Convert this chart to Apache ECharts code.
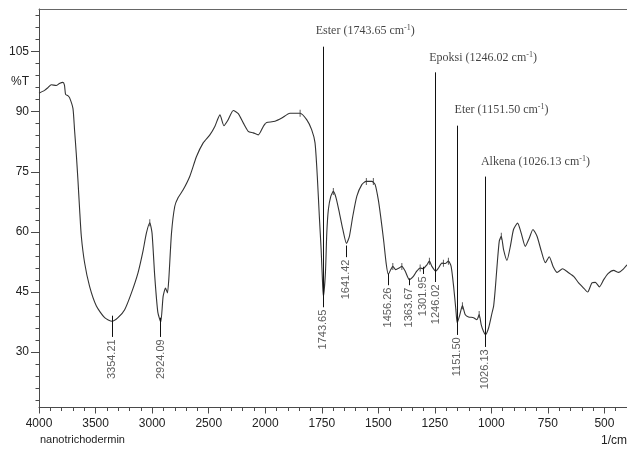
<!DOCTYPE html>
<html>
<head>
<meta charset="utf-8">
<script src="https://cdn.jsdelivr.net/npm/echarts@6/dist/echarts.min.js"></script>
<style>html,body{margin:0;padding:0;background:#fff}#c{width:627px;height:450px}</style>
</head>
<body>
<div id="c"></div>
<script>
// ---- data ----
const wavenumbers = [4000,3951,3920,3892,3848,3820,3789,3775,3765,3745,3730,3700,3686,3671,3656,3641,3626,3597,3553,3493,3420,3354,3302,3243,3183,3125,3081,3051,3021,3001,2977,2950,2924,2903,2882,2865,2853,2829,2800,2771,2726,2667,2608,2549,2490,2446,2401,2366,2328,2283,2239,2195,2151,2106,2062,2018,2000,
  1994,1957,1927,1891,1846,1817,1795,1780,1770,1761,1753,1746,1743,1734,1728,1721,1710,1699,1687,1672,1657,1641,1628,1613,1595,1573,1554,1529,1514,1500,1490,1477,1465,1456,1445,1436,1423,1408,1396,1381,1363,1345,1330,1315,1302,1285,1274,1263,1246,1234,1219,1204,1190,1178,1167,1157,1151,1141,1128,1116,1101,1079,1064,1054,1045,1035,1026,1012,997,990,983,975,965,956,946,931,916,902,884,868,850,832,816,798,779,761,744,727,709,685,658,636,614,592,574,555,540,522,503,484,459,437,419,400];
const transmittance = [94.6,95.3,96.0,96.7,96.5,97.0,97.3,96.6,94.3,94.0,93.5,90.8,85.5,79.7,73.0,65.6,58.9,52.3,46.4,41.5,38.6,37.7,38.6,40.6,44.8,49.8,55.2,59.7,62.3,59.7,48.9,40.0,37.5,43.9,46.0,44.8,48.1,59.7,66.4,68.5,70.5,73.9,78.8,82.2,84.2,86.3,89.2,86.5,88.0,90.3,89.5,87.2,85.1,84.7,84.2,86.3,87.0,
  87.3,87.6,88.4,89.6,89.6,88.0,85.5,82.2,73.9,63.9,55.6,46.4,43.9,49.8,59.7,65.6,68.9,70.1,68.5,64.7,60.6,57.1,58.9,63.9,68.9,71.8,72.6,72.6,71.8,68.0,64.0,58.1,52.0,49.4,50.6,51.4,50.6,51.0,51.4,50.2,48.1,48.9,50.2,51.0,50.8,51.8,52.7,51.4,50.2,51.0,52.2,52.1,52.7,51.4,46.4,40.6,37.3,39.0,41.6,39.4,38.8,38.6,38.1,39.4,36.9,35.2,34.4,36.1,39.8,41.5,45.6,51.4,57.7,58.9,55.6,52.9,56.4,60.6,62.2,59.7,56.4,58.5,60.6,58.9,55.2,52.3,53.8,51.4,49.9,50.8,49.8,48.9,47.3,46.0,45.0,47.3,47.4,46.3,48.1,49.6,50.4,49.9,50.6,51.8];

const peakWavenumbers = [3354.21, 2924.09, 1743.65, 1641.42, 1456.26, 1363.67, 1301.95, 1246.02, 1151.50, 1026.13];
const assignNames = ['Ester', 'Epoksi', 'Eter', 'Alkena'];
const assignWavenumbers = [1743.65, 1246.02, 1151.50, 1026.13];
const markerWavenumbers = [3021, 1846, 1699, 1553, 1522, 1436, 1396, 1315, 1274, 1212, 1190, 1128, 1054, 956];
const markerValues = [62.3, 89.6, 70.1, 72.6, 72.6, 51.4, 51.4, 51.0, 52.7, 52.2, 52.7, 41.6, 39.4, 58.9];

const xTicksLeft = [2000, 2500, 3000, 3500, 4000];
const xTicksRight = [500, 750, 1000, 1250, 1500, 1750];
const yTickLabels = [30, 45, 60, 75, 90, 105];

// ---- layout (label/line placement, in %T units) ----
const peakLabelTop = [33.2, 33.2, 40.6, 53.1, 46.1, 46.1, 48.9, 46.9, 33.7, 30.7];
const peakLineTop  = [39.1, 38.6, 106.2, 56.6, 49.6, 48.4, 51.3, 99.8, 86.5, 73.8];
const assignOffsets = [[-7, -15], [-6, -14], [-2, -15], [-4, -14]];

function range(a, b, s) { const r = []; for (let v = a; v <= b + 1e-9; v += s) r.push(Math.round(v * 1000) / 1000); return r; }
const yMinor = range(18, 114, 3).filter(v => v % 15 !== 0);
const xMinorLeft = range(2100, 3900, 100).filter(v => v % 500 !== 0);
const xMinorRight = range(450, 1950, 50).filter(v => v % 250 !== 0);

const pts = wavenumbers.map((w, i) => [w, transmittance[i]]);
const hi = pts.filter(p => p[0] >= 2000);
const lo = pts.filter(p => p[0] <= 2000);

const SANS = 'Liberation Sans', SERIF = 'Liberation Serif';
const AX = '#4a4a4a', INK = '#222';
const YMIN = 16.2, YMAX = 115.6;
const G = { top: 9, bottom: 42.5 };
const plain = v => String(v);

function peakItems(side) {
  return peakWavenumbers.map((w, i) => ({ w, i })).filter(o => side === 0 ? o.w >= 2000 : o.w < 2000)
    .map(o => ({ value: [o.w, peakLabelTop[o.i]], name: o.w.toFixed(2) }));
}
function peakLines(side) {
  return peakWavenumbers.map((w, i) => ({ w, i })).filter(o => side === 0 ? o.w >= 2000 : o.w < 2000)
    .map(o => [{ coord: [o.w, peakLineTop[o.i]] }, { coord: [o.w, peakLabelTop[o.i] + 0.6] }]);
}
function markerItems(side) {
  return markerWavenumbers.map((w, i) => [w, markerValues[i]]).filter(p => side === 0 ? p[0] >= 2000 : p[0] < 2000);
}

const xBase = (gi, min, max) => ({
  gridIndex: gi, type: 'value', min, max, inverse: true, position: 'bottom',
  splitLine: { show: false }
});

const option = {
  animation: false,
  backgroundColor: '#fff',
  grid: [
    { left: 39, width: 226.3, top: G.top, bottom: G.bottom, outerBoundsMode: 'none' },
    { left: 265.3, right: 0, top: G.top, bottom: G.bottom, outerBoundsMode: 'none' },
    { left: 39, width: 226.3, top: G.top, bottom: G.bottom, outerBoundsMode: 'none' },
    { left: 265.3, right: 0, top: G.top, bottom: G.bottom, outerBoundsMode: 'none' }
  ],
  xAxis: [
    Object.assign(xBase(0, 2000, 4000), {
      axisLine: { show: true, onZero: false, lineStyle: { color: AX, width: 1 } },
      axisTick: { show: true, customValues: xTicksLeft, length: 6, lineStyle: { color: AX } },
      axisLabel: { customValues: xTicksLeft, formatter: plain, margin: 10, color: INK, fontFamily: SANS, fontSize: 12, lineHeight: 12 }
    }),
    Object.assign(xBase(1, 400, 2000), {
      axisLine: { show: true, onZero: false, lineStyle: { color: AX, width: 1 } },
      axisTick: { show: true, customValues: xTicksRight, length: 6, lineStyle: { color: AX } },
      axisLabel: { customValues: xTicksRight, formatter: plain, margin: 10, color: INK, fontFamily: SANS, fontSize: 12, lineHeight: 12 }
    }),
    Object.assign(xBase(2, 2000, 4000), {
      axisLine: { show: false, onZero: false },
      axisTick: { show: true, customValues: xMinorLeft, length: 3.5, lineStyle: { color: AX } },
      axisLabel: { show: false }
    }),
    Object.assign(xBase(3, 400, 2000), {
      axisLine: { show: false, onZero: false },
      axisTick: { show: true, customValues: xMinorRight, length: 3.5, lineStyle: { color: AX } },
      axisLabel: { show: false }
    }),
    Object.assign(xBase(0, 2000, 4000), {
      position: 'top',
      axisLine: { show: true, onZero: false, lineStyle: { color: '#666', width: 1 } },
      axisTick: { show: false }, axisLabel: { show: false }
    }),
    Object.assign(xBase(1, 400, 2000), {
      position: 'top',
      axisLine: { show: true, onZero: false, lineStyle: { color: '#666', width: 1 } },
      axisTick: { show: false }, axisLabel: { show: false }
    })
  ],
  yAxis: [
    {
      gridIndex: 0, type: 'value', min: YMIN, max: YMAX, position: 'left',
      axisLine: { show: true, onZero: false, lineStyle: { color: AX, width: 1 } },
      axisTick: { show: true, customValues: yTickLabels, length: 8, lineStyle: { color: AX } },
      axisLabel: { customValues: yTickLabels, formatter: plain, margin: 10, color: INK, fontFamily: SANS, fontSize: 12 },
      splitLine: { show: false }
    },
    { gridIndex: 1, type: 'value', min: YMIN, max: YMAX, show: false, splitLine: { show: false } },
    {
      gridIndex: 2, type: 'value', min: YMIN, max: YMAX, position: 'left',
      axisLine: { show: false, onZero: false },
      axisTick: { show: true, customValues: yMinor, length: 3.5, lineStyle: { color: AX } },
      axisLabel: { show: false }, splitLine: { show: false }
    },
    { gridIndex: 3, type: 'value', min: YMIN, max: YMAX, show: false, splitLine: { show: false } }
  ],
  graphic: [
    { type: 'text', left: 11, top: 76, style: { text: '%T', fontFamily: SANS, fontSize: 12, fill: INK } },
    { type: 'text', left: 40, top: 434, style: { text: 'nanotrichodermin', fontFamily: SANS, fontSize: 11, fill: INK } },
    { type: 'text', right: 0, top: 435, style: { text: '1/cm', fontFamily: SANS, fontSize: 12, fill: INK } }
  ],
  series: [
    {
      type: 'line', xAxisIndex: 0, yAxisIndex: 0, data: hi, symbol: 'none', smooth: 0.2, silent: true,
      lineStyle: { color: '#333', width: 1.1 }
    },
    {
      type: 'line', xAxisIndex: 1, yAxisIndex: 1, data: lo, symbol: 'none', smooth: 0.2, silent: true,
      lineStyle: { color: '#333', width: 1.1 }
    },
    {
      type: 'scatter', xAxisIndex: 0, yAxisIndex: 0, data: markerItems(0), symbol: 'rect', symbolSize: [1, 7],
      itemStyle: { color: '#333' }, silent: true
    },
    {
      type: 'scatter', xAxisIndex: 1, yAxisIndex: 1, data: markerItems(1), symbol: 'rect', symbolSize: [1, 7],
      itemStyle: { color: '#333' }, silent: true
    },
    ...[0, 1].map(side => ({
      type: 'scatter', xAxisIndex: side, yAxisIndex: side, data: peakItems(side), symbolSize: 1,
      itemStyle: { color: 'rgba(0,0,0,0)' }, silent: true,
      label: {
        show: true, formatter: '{b}', position: 'inside', rotate: 90, align: 'right', verticalAlign: 'middle',
        fontFamily: SANS, fontSize: 11, color: '#333'
      },
      markLine: {
        silent: true, symbol: ['none', 'none'], label: { show: false },
        lineStyle: { color: '#111', width: 1, type: 'solid' },
        data: peakLines(side)
      }
    })),
    {
      type: 'scatter', xAxisIndex: 1, yAxisIndex: 1, symbolSize: 1, silent: true,
      itemStyle: { color: 'rgba(0,0,0,0)' },
      data: assignNames.map((n, i) => {
        const pi = peakWavenumbers.indexOf(assignWavenumbers[i]);
        return {
          value: [assignWavenumbers[i], peakLineTop[pi]], name: n,
          wn: assignWavenumbers[i].toFixed(2),
          label: { position: assignOffsets[i] }
        };
      }),
      label: {
        show: true, align: 'left', verticalAlign: 'middle',
        formatter: p => '{t|' + p.name + ' (' + p.data.wn + ' cm}{s|-1}{t|)}',
        rich: {
          t: { fontFamily: SERIF, fontSize: 12, color: '#111', lineHeight: 14 },
          s: { fontFamily: SERIF, fontSize: 8, color: '#111', lineHeight: 8, verticalAlign: 'top' }
        }
      }
    }
  ]
};

const chart = echarts.init(document.getElementById('c'));
chart.setOption(option);
</script>
</body>
</html>
